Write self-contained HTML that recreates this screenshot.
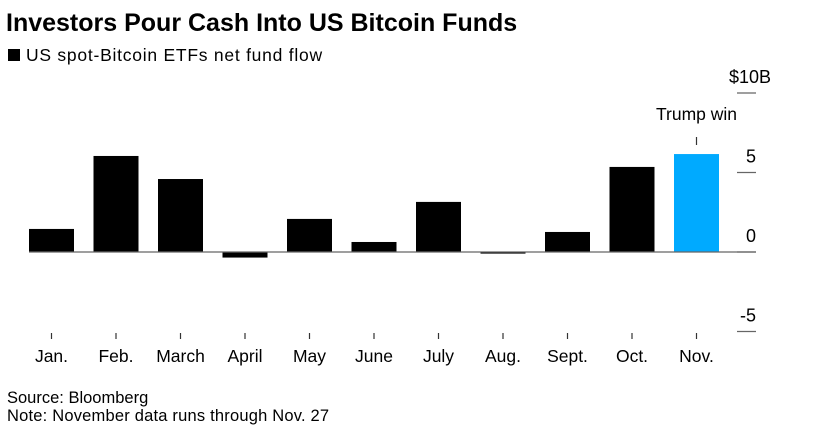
<!DOCTYPE html>
<html><head><meta charset="utf-8"><style>
body{margin:0;background:#fff;width:823px;height:438px;overflow:hidden;font-family:"Liberation Sans",Arial,sans-serif}
</style></head><body>
<svg id="c" width="823" height="438" font-family="Liberation Sans, Arial, sans-serif">
<text x="6" y="31" font-size="25" font-weight="bold" fill="#000">Investors Pour Cash Into US Bitcoin Funds</text>
<rect x="8" y="49" width="12" height="12" fill="#000"/>
<text x="26" y="61" font-size="17.5" letter-spacing="0.75" fill="#000">US spot-Bitcoin ETFs net fund flow</text>
<text x="7" y="403" font-size="16.5" fill="#000">Source: Bloomberg</text>
<text x="7" y="421" font-size="16.5" letter-spacing="0.2" fill="#000">Note: November data runs through Nov. 27</text>
<g id="plot"></g>
</svg>
<script>
const months=["Jan.","Feb.","March","April","May","June","July","Aug.","Sept.","Oct.","Nov."];
const flows=[1.45,6.04,4.59,-0.35,2.08,0.63,3.15,-0.1,1.26,5.35,6.16];
const ticks=[10,5,0,-5];
const tickLabels=["$10B","5","0","-5"];
const NS="http://www.w3.org/2000/svg";
const g=document.getElementById('plot');
const y=v=>252-v*15.9;
const x=i=>51.5+i*64.5;
function mk(t,a){const e=document.createElementNS(NS,t);for(const k in a)e.setAttribute(k,a[k]);g.appendChild(e);return e;}
ticks.forEach((t,i)=>{
 const l=mk('line',{x1:737,x2:756,y1:y(t),y2:y(t),stroke:'#666','stroke-width':1.3});
 
 
 const tx=mk('text',{x:t===10?771:756,y:y(t)-10,'font-size':18,'text-anchor':'end',fill:'#000'});
 tx.textContent=tickLabels[i];
 
 
});
flows.forEach((v,i)=>{
 const top=Math.min(y(v),y(0)),h=Math.abs(y(v)-y(0));
 const r=mk('rect',{x:x(i)-22.5,y:top,width:45,height:Math.max(h,1),fill:i===10?'#00aaff':'#000'});
 
 
 const tk=mk('line',{x1:x(i),x2:x(i),y1:333,y2:339,stroke:'#333','stroke-width':1.2});
 
 
 const tl=mk('text',{x:x(i),y:362,'font-size':17.5,'text-anchor':'middle',fill:'#000'});
 tl.textContent=months[i];
 
 
});
const z=mk('line',{x1:29,x2:756,y1:y(0),y2:y(0),stroke:'#666','stroke-width':1.3});


const al=mk('line',{x1:x(10),x2:x(10),y1:137,y2:145,stroke:'#333','stroke-width':1.2});


const at=mk('text',{x:x(10),y:120,'font-size':17.5,'text-anchor':'middle',fill:'#000'});
at.textContent='Trump win';


</script>
</body></html>
